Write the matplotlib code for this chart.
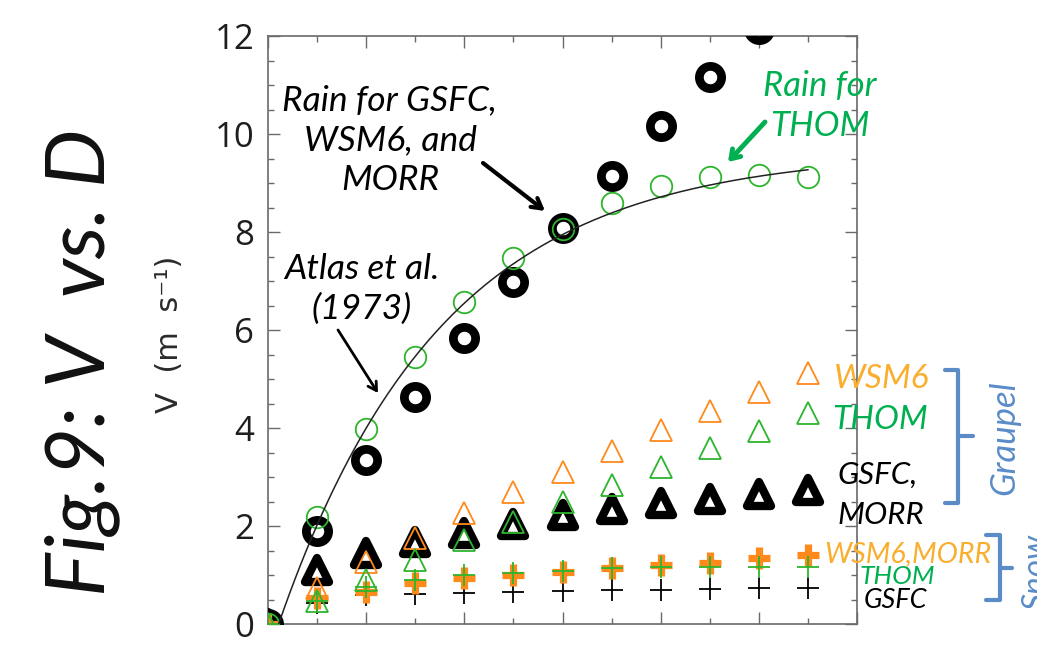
import numpy as np
import matplotlib
matplotlib.use("Agg")
import matplotlib.pyplot as plt
from matplotlib.lines import Line2D
from matplotlib.markers import MarkerStyle

# ---- data: fall speed V (m/s) against diameter D (mm) ----
diameter = [0.0, 0.5, 1.0, 1.5, 2.0, 2.5, 3.0, 3.5, 4.0, 4.5, 5.0, 5.5]

rain_gsfc_wsm6_morr = [0.0, 1.90, 3.35, 4.63, 5.83, 6.98, 8.08, 9.14, 10.16, 11.17, 12.15]
rain_thom = [0.0, 2.19, 3.98, 5.44, 6.58, 7.46, 8.07, 8.59, 8.93, 9.12, 9.16, 9.13]

graupel_wsm6 = [0.0, 0.73, 1.27, 1.75, 2.26, 2.70, 3.11, 3.54, 3.96, 4.35, 4.74, 5.12]
graupel_thom = [0.0, 0.46, 0.90, 1.31, 1.71, 2.09, 2.48, 2.84, 3.21, 3.59, 3.93, 4.30]
graupel_gsfc_morr = [0.0, 1.10, 1.44, 1.68, 1.85, 2.05, 2.22, 2.34, 2.46, 2.55, 2.65, 2.73]

snow_wsm6_morr = [0.0, 0.53, 0.66, 0.83, 0.93, 1.00, 1.07, 1.14, 1.20, 1.25, 1.34, 1.41]
snow_thom = [0.0, 0.47, 0.76, 0.90, 1.00, 1.05, 1.09, 1.14, 1.16, 1.17, 1.16, 1.16]
snow_gsfc = [0.0, 0.43, 0.59, 0.61, 0.64, 0.66, 0.67, 0.69, 0.70, 0.71, 0.73, 0.73]

# Atlas et al. (1973): V = a - b * exp(-c * D)
atlas_a, atlas_b, atlas_c = 9.65, 10.3, 0.6
atlas_d_max = 5.5

x_ticks_major = [0, 1, 2, 3, 4, 5, 6]
y_ticks_major = [0, 2, 4, 6, 8, 10, 12]

# ---- colours ----
ORANGE = "#FF8A1C"
GREEN = "#2DB52D"
TXT_ORANGE = "#F9AE2E"
TXT_GREEN = "#00B050"
BLUE = "#5B8CC8"
AXIS_GREY = "#6a6a6a"

W, H = 1037, 647
fig = plt.figure(figsize=(W / 100, H / 100), dpi=100)
ax = fig.add_axes([268 / W, 1 - 624 / H, (857 - 268) / W, (624 - 36) / H])


def fx(px):
    return px / W


def fy(py):
    return 1 - py / H


def d(a):
    return np.asarray(diameter[:len(a)])


# thick black series first, coloured ones drawn on top
ax.plot(d(rain_gsfc_wsm6_morr), rain_gsfc_wsm6_morr, ls="none", marker="o",
        ms=16, mew=6.3, mec="black", mfc="none", zorder=3)

tri_round = MarkerStyle("^", joinstyle="round")
ax.plot(d(graupel_gsfc_morr), graupel_gsfc_morr, ls="none", marker=tri_round,
        ms=17, mew=6.0, mec="black", mfc="white", zorder=3)
ax.plot(d(snow_gsfc), snow_gsfc, ls="none", marker="+",
        ms=16.5, mew=1.3, mec="black", zorder=3)

ax.plot(d(graupel_wsm6), graupel_wsm6, ls="none", marker="^",
        ms=15.5, mew=1.3, mec=ORANGE, mfc="none", zorder=4)
ax.plot(d(snow_wsm6_morr), snow_wsm6_morr, ls="none", marker="+",
        ms=16, mew=5.2, mec=ORANGE, zorder=4)

ax.plot(d(rain_thom), rain_thom, ls="none", marker="o",
        ms=15.5, mew=1.3, mec=GREEN, mfc="none", zorder=5)
ax.plot(d(graupel_thom), graupel_thom, ls="none", marker="^",
        ms=15.5, mew=1.3, mec=GREEN, mfc="none", zorder=5)
ax.plot(d(snow_thom), snow_thom, ls="none", marker="+",
        ms=16.5, mew=1.3, mec=GREEN, zorder=5)

d_curve = np.linspace(0, atlas_d_max, 200)
v_curve = atlas_a - atlas_b * np.exp(-atlas_c * d_curve)
ax.plot(d_curve, v_curve, color="#222222", lw=1.1, zorder=6)

# ---- axes ----
ax.set_xlim(0, 6)
ax.set_ylim(0, 12)
ax.set_xticks(x_ticks_major)
ax.set_xticks(np.arange(0, 6.01, 0.5), minor=True)
ax.set_xticklabels([])
ax.set_yticks(y_ticks_major)
ax.set_yticks(np.arange(0, 12.01, 0.5), minor=True)
ax.set_yticklabels([str(v) for v in y_ticks_major])
for s in ax.spines.values():
    s.set_color(AXIS_GREY)
    s.set_linewidth(1.2)
ax.tick_params(which="both", direction="in", top=True, right=True,
               color=AXIS_GREY, width=1.0)
ax.tick_params(which="major", length=8.5)
ax.tick_params(which="minor", length=4.5)
ax.tick_params(axis="y", which="major", labelsize=25, labelcolor="#1e1e1e", pad=10)
for lab in ax.get_yticklabels():
    lab.set_family("Open Sans")

fig.text(fx(170), fy(334), "V  (m  s\u207b\u00b9)", rotation=90, ha="center",
         va="center", fontsize=22, family=["DejaVu Sans"], color="#2a2a2a")

# ---- title on the left ----
TFONT = "Lato"
fig.text(fx(82), fy(362), "Fig.9: V  vs. D", rotation=90, ha="center",
         va="center", fontsize=59, family=TFONT, style="italic", color="#111111")

# ---- annotations inside the plot ----
fig.text(fx(390), fy(140), "Rain for GSFC,\nWSM6, and\nMORR", ha="center",
         va="center", fontsize=25.5, family=TFONT, style="italic",
         linespacing=1.3, color="black")
fig.text(fx(362), fy(289), "Atlas et al.\n(1973)", ha="center", va="center",
         fontsize=25.5, family=TFONT, style="italic", linespacing=1.3,
         color="black")
fig.text(fx(820), fy(106), "Rain for\nTHOM", ha="center", va="center",
         fontsize=25, family=TFONT, style="italic", linespacing=1.3,
         color=TXT_GREEN)

arrow_kw = dict(xycoords="figure fraction", textcoords="figure fraction")
ax.annotate("", xy=(fx(545), fy(211)), xytext=(fx(483), fy(163)),
            arrowprops=dict(arrowstyle="->,head_length=0.7,head_width=0.4",
                            lw=3.0, color="black", shrinkA=0, shrinkB=0),
            **arrow_kw)
ax.annotate("", xy=(fx(378), fy(393)), xytext=(fx(338), fy(330)),
            arrowprops=dict(arrowstyle="->,head_length=0.6,head_width=0.35",
                            lw=2.0, color="black", shrinkA=0, shrinkB=0),
            **arrow_kw)
ax.annotate("", xy=(fx(728), fy(162)), xytext=(fx(765), fy(122)),
            arrowprops=dict(arrowstyle="->,head_length=0.6,head_width=0.4",
                            lw=3.5, color=TXT_GREEN, shrinkA=0, shrinkB=0),
            **arrow_kw)

# ---- category labels on the right ----
lab_kw = dict(family=TFONT, style="italic", ha="center", va="center")
fig.text(fx(882), fy(379), "WSM6", fontsize=24, color=TXT_ORANGE, **lab_kw)
fig.text(fx(880), fy(420), "THOM", fontsize=24, color=TXT_GREEN, **lab_kw)
fig.text(fx(878), fy(475), "GSFC,", fontsize=22.5, color="black", **lab_kw)
fig.text(fx(881), fy(515), "MORR", fontsize=22.5, color="black", **lab_kw)
fig.text(fx(908), fy(554), "WSM6,MORR", fontsize=20.5, color=TXT_ORANGE, **lab_kw)
fig.text(fx(897), fy(577), "THOM", fontsize=19, color=TXT_GREEN, **lab_kw)
fig.text(fx(895), fy(601), "GSFC", fontsize=19.5, color="black", **lab_kw)

fig.text(fx(1004), fy(438), "Graupel", rotation=90, fontsize=25,
         color=BLUE, **lab_kw)
fig.text(fx(1037), fy(572), "Snow", rotation=90, fontsize=24,
         color=BLUE, **lab_kw)


def bracket(x0, x1, y_top, y_bot, y_mid, x_nub):
    pts_x = [x0, x1, x1, x0]
    pts_y = [y_top, y_top, y_bot, y_bot]
    fig.add_artist(Line2D([fx(v) for v in pts_x], [fy(v) for v in pts_y],
                          transform=fig.transFigure, color=BLUE, lw=3.0,
                          solid_joinstyle="round", solid_capstyle="round"))
    fig.add_artist(Line2D([fx(x1), fx(x_nub)], [fy(y_mid), fy(y_mid)],
                          transform=fig.transFigure, color=BLUE, lw=3.0,
                          solid_capstyle="round"))


bracket(945, 958, 370, 503, 436, 973)
bracket(986, 1000, 535, 600, 568, 1012)

fig.savefig("out.png", dpi=100)
